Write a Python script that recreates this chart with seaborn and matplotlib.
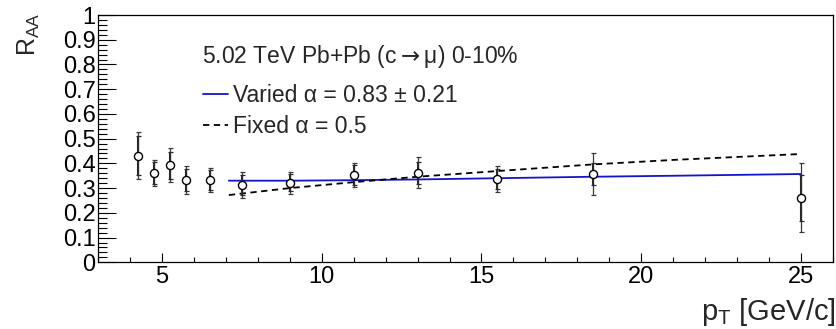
import numpy as np
import pandas as pd
import matplotlib
matplotlib.use("Agg")
import matplotlib.pyplot as plt
from matplotlib.ticker import MultipleLocator
import seaborn as sns

# ---- data ----
pt = [4.25, 4.75, 5.25, 5.75, 6.5, 7.5, 9.0, 11.0, 13.0, 15.5, 18.5, 25.0]
raa = [0.431, 0.362, 0.393, 0.333, 0.333, 0.313, 0.322, 0.353, 0.362, 0.336, 0.357, 0.261]
err_tot = [0.094, 0.053, 0.068, 0.056, 0.049, 0.051, 0.045, 0.049, 0.063, 0.052, 0.085, 0.140]
err_stat = [0.080, 0.045, 0.055, 0.045, 0.040, 0.040, 0.035, 0.040, 0.045, 0.040, 0.045, 0.093]

curve_pt = [7.1, 9.0, 11.0, 13.0, 15.5, 18.5, 21.0, 25.0]
varied_raa = [0.330, 0.330, 0.332, 0.335, 0.340, 0.346, 0.350, 0.357]
fixed_raa = [0.272, 0.300, 0.324, 0.346, 0.369, 0.396, 0.414, 0.438]

header = "5.02 TeV Pb+Pb (c$\\rightarrow$\u03bc) 0-10%"
label_varied = "Varied \u03b1 = 0.83 \u00b1 0.21"
label_fixed = "Fixed \u03b1 = 0.5"
ytick_labels = ["0", "0.1", "0.2", "0.3", "0.4", "0.5", "0.6", "0.7", "0.8", "0.9", "1"]

sns.set_style("ticks")
plt.rcParams["font.family"] = ["Liberation Sans", "DejaVu Sans"]
plt.rcParams["mathtext.fontset"] = "dejavusans"

fig = plt.figure(figsize=(8.37, 3.29), dpi=100)
ax = fig.add_axes([97.7 / 837, (329 - 262.3) / 329, (833.3 - 97.7) / 837, (262.3 - 15) / 329])

df_curves = pd.DataFrame({"pt": curve_pt, "varied": varied_raa, "fixed": fixed_raa})
sns.lineplot(data=df_curves, x="pt", y="varied", ax=ax, color="#1414c8", lw=1.3,
             label=label_varied)
sns.lineplot(data=df_curves, x="pt", y="fixed", ax=ax, color="black", lw=1.3,
             linestyle=(0, (3.5, 2.5)), label=label_fixed)

# error bars: total (thin, caps) and stat (thicker)
ax.errorbar(pt, raa, yerr=err_tot, fmt="none", ecolor="#3a3a3a", elinewidth=0.9,
            capsize=1.8, capthick=0.9, zorder=3)
ax.errorbar(pt, raa, yerr=err_stat, fmt="none", ecolor="#2a2a2a", elinewidth=1.5,
            capsize=1.8, capthick=0.9, zorder=3)
df_pts = pd.DataFrame({"pt": pt, "raa": raa})
sns.scatterplot(data=df_pts, x="pt", y="raa", ax=ax, marker="o", s=34,
                facecolor="white", edgecolor="black", linewidth=1.0, zorder=4)

ax.set_xlim(3, 26)
ax.set_ylim(0, 1)
ax.xaxis.set_major_locator(MultipleLocator(5))
ax.xaxis.set_minor_locator(MultipleLocator(1))
ax.set_yticks(np.arange(0, 1.01, 0.1))
ax.set_yticklabels(ytick_labels)
ax.yaxis.set_minor_locator(MultipleLocator(0.02))
ax.tick_params(axis="both", which="both", direction="in", colors="black", labelsize=17)
ax.tick_params(axis="y", which="major", length=13, width=0.8, pad=1.5)
ax.tick_params(axis="y", which="minor", length=6.5, width=0.8)
ax.tick_params(axis="x", which="major", length=6.5, width=0.8, pad=3)
ax.tick_params(axis="x", which="minor", length=3.3, width=0.8)
for s in ax.spines.values():
    s.set_linewidth(0.9)
    s.set_color("black")
    s.set_visible(True)

ax.set_xlabel("")
ax.set_ylabel("")
fig.text(29 / 837, 1 - 12 / 329, r"$\mathregular{R_{AA}}$", rotation=90, ha="center",
         va="top", fontsize=18)
fig.text(836 / 837, 1 - 328 / 329, r"$\mathregular{p_{T}}$ [GeV/c]", ha="right",
         va="bottom", fontsize=21)

ax.text((202 - 97.7) / 735.6, (262.3 - 57) / 247.3, header, transform=ax.transAxes,
        ha="left", va="center", fontsize=16.5)

leg = ax.legend(loc="upper left", bbox_to_anchor=(203 / 837, 1 - 84 / 329),
                bbox_transform=fig.transFigure, frameon=False, fontsize=16.5,
                handlelength=1.09, handletextpad=0.22, labelspacing=0.36,
                borderpad=0, borderaxespad=0)

fig.savefig("out.png", dpi=100, facecolor="white")
